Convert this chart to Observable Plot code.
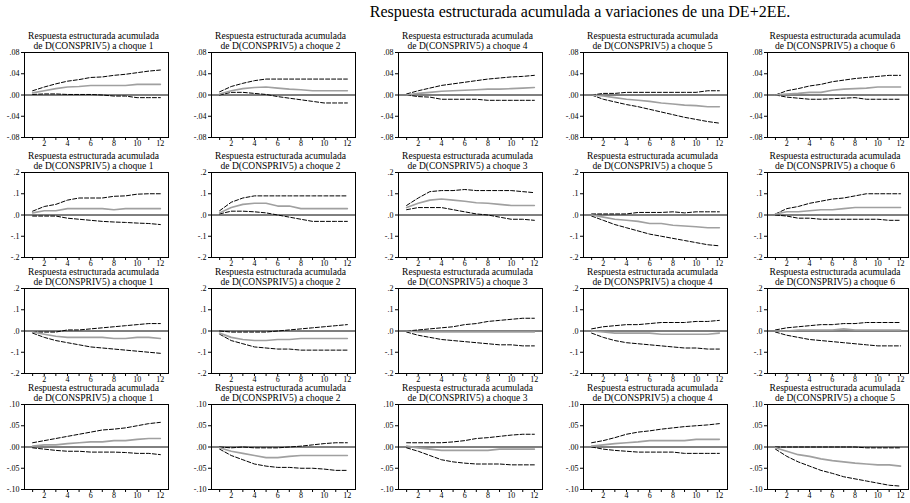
<!DOCTYPE html>
<html><head><meta charset="utf-8">
<script src="https://cdn.jsdelivr.net/npm/d3@7"></script>
<script src="https://cdn.jsdelivr.net/npm/@observablehq/plot@0.6"></script>
<style>
body{margin:0;background:#fff;}
#chart{position:relative;width:910px;height:503px;overflow:hidden;font-family:"Liberation Serif",serif;background:#fff;}
#title{position:absolute;left:100px;top:3px;width:960px;text-align:center;font-size:16px;color:#000;white-space:nowrap;}
.panel{position:absolute;}
#chart svg, #chart svg text{font-family:"Liberation Serif",serif !important;}
</style></head><body>
<div id="chart"><div id="title">Respuesta estructurada acumulada a variaciones de una DE+2EE.</div></div>
<script>
// ---------- data ----------
const periods = [1,2,3,4,5,6,7,8,9,10,11,12];
const xTickLabels = ["","2","","4","","6","","8","","10","","12"];
const titleLine1 = "Respuesta estructurada acumulada";
const titleLine2 = "de D(CONSPRIV5) a choque ";
const rowShocks = [[1,2,4,5,6],[1,2,3,5,6],[1,2,3,4,6],[1,2,3,4,5]];
const yLimits = [0.08, 0.2, 0.2, 0.10];
const yTickValues = [
  [-0.08,-0.04,0,0.04,0.08],
  [-0.2,-0.1,0,0.1,0.2],
  [-0.2,-0.1,0,0.1,0.2],
  [-0.10,-0.05,0,0.05,0.10]
];
const yTickLabels = [
  ["-.08","-.04",".00",".04",".08"],
  ["-.2","-.1",".0",".1",".2"],
  ["-.2","-.1",".0",".1",".2"],
  ["-.10","-.05",".00",".05",".10"]
];

// Row 1
const resp1 = [
  [0.004,0.008,0.012,0.015,0.016,0.018,0.018,0.018,0.018,0.020,0.020,0.020],
  [0.002,0.008,0.012,0.014,0.015,0.013,0.011,0.010,0.008,0.008,0.008,0.008],
  [0.000,0.003,0.005,0.007,0.008,0.009,0.010,0.011,0.011,0.012,0.013,0.014],
  [0.000,-0.002,-0.005,-0.008,-0.010,-0.012,-0.015,-0.017,-0.019,-0.020,-0.022,-0.022],
  [0.000,0.002,0.003,0.005,0.005,0.009,0.011,0.012,0.013,0.015,0.015,0.015]
];
const hi1 = [
  [0.008,0.015,0.021,0.026,0.029,0.033,0.034,0.037,0.039,0.042,0.045,0.047],
  [0.006,0.016,0.022,0.027,0.030,0.030,0.030,0.030,0.030,0.030,0.030,0.030],
  [0.002,0.008,0.013,0.018,0.021,0.024,0.027,0.030,0.032,0.034,0.035,0.037],
  [0.000,0.003,0.003,0.005,0.005,0.005,0.005,0.005,0.005,0.005,0.008,0.008],
  [0.000,0.008,0.012,0.017,0.020,0.025,0.028,0.031,0.033,0.035,0.037,0.037]
];
const lo1 = [
  [0.001,0.002,0.002,0.001,0.001,0.001,0.000,-0.002,-0.002,-0.005,-0.005,-0.005],
  [0.000,0.005,0.005,0.003,0.001,-0.003,-0.006,-0.009,-0.012,-0.015,-0.015,-0.015],
  [0.000,-0.003,-0.004,-0.008,-0.008,-0.008,-0.008,-0.010,-0.010,-0.010,-0.010,-0.010],
  [0.000,-0.008,-0.013,-0.018,-0.022,-0.027,-0.032,-0.037,-0.042,-0.046,-0.050,-0.053],
  [0.000,-0.004,-0.006,-0.008,-0.008,-0.007,-0.006,-0.005,-0.008,-0.008,-0.008,-0.008]
];
// Row 2
const resp2 = [
  [0.010,0.020,0.020,0.030,0.030,0.030,0.030,0.025,0.030,0.030,0.030,0.030],
  [0.010,0.035,0.050,0.055,0.055,0.042,0.042,0.030,0.030,0.030,0.030,0.030],
  [0.035,0.055,0.070,0.075,0.070,0.065,0.058,0.055,0.050,0.045,0.045,0.045],
  [0.000,-0.010,-0.020,-0.025,-0.030,-0.040,-0.040,-0.048,-0.052,-0.055,-0.060,-0.060],
  [0.005,0.015,0.015,0.020,0.025,0.025,0.030,0.035,0.035,0.035,0.035,0.035]
];
const hi2 = [
  [0.018,0.040,0.050,0.070,0.080,0.080,0.080,0.088,0.090,0.098,0.100,0.100],
  [0.020,0.060,0.080,0.090,0.090,0.090,0.090,0.090,0.090,0.090,0.090,0.090],
  [0.045,0.080,0.110,0.115,0.115,0.120,0.115,0.115,0.115,0.115,0.110,0.105],
  [0.005,0.005,0.005,0.005,0.012,0.012,0.012,0.015,0.010,0.015,0.015,0.015],
  [0.005,0.030,0.040,0.055,0.065,0.075,0.080,0.090,0.100,0.100,0.100,0.100]
];
const lo2 = [
  [-0.005,-0.005,-0.005,-0.015,-0.020,-0.025,-0.030,-0.033,-0.035,-0.038,-0.040,-0.045],
  [0.005,0.018,0.018,0.015,0.010,0.000,-0.010,-0.020,-0.030,-0.030,-0.030,-0.030],
  [0.025,0.035,0.035,0.035,0.025,0.015,0.005,0.000,-0.010,-0.020,-0.020,-0.025],
  [-0.005,-0.025,-0.045,-0.060,-0.075,-0.090,-0.100,-0.110,-0.120,-0.130,-0.140,-0.145],
  [0.000,-0.005,-0.015,-0.015,-0.020,-0.020,-0.020,-0.020,-0.020,-0.020,-0.025,-0.025]
];
// Row 3
const resp3 = [
  [-0.005,-0.015,-0.025,-0.030,-0.030,-0.030,-0.030,-0.035,-0.035,-0.030,-0.030,-0.035],
  [-0.010,-0.030,-0.040,-0.045,-0.045,-0.040,-0.040,-0.035,-0.035,-0.035,-0.035,-0.035],
  [0.000,-0.005,-0.005,-0.005,-0.005,-0.005,-0.005,-0.005,-0.005,-0.005,-0.005,-0.005],
  [0.000,-0.005,-0.010,-0.010,-0.010,-0.010,-0.015,-0.015,-0.015,-0.015,-0.015,-0.010],
  [0.000,0.000,0.005,0.005,0.005,0.005,0.010,0.005,0.005,0.005,0.005,0.005]
];
const hi3 = [
  [-0.005,-0.005,-0.005,0.005,0.005,0.010,0.015,0.020,0.025,0.030,0.035,0.035],
  [0.000,-0.005,-0.005,-0.005,-0.005,0.000,0.005,0.010,0.015,0.020,0.025,0.030],
  [0.000,0.005,0.010,0.015,0.020,0.030,0.035,0.045,0.050,0.055,0.060,0.060],
  [0.010,0.020,0.025,0.030,0.030,0.035,0.040,0.040,0.040,0.045,0.045,0.050],
  [0.005,0.015,0.020,0.025,0.030,0.030,0.035,0.035,0.040,0.040,0.040,0.040]
];
const lo3 = [
  [-0.010,-0.030,-0.045,-0.055,-0.065,-0.075,-0.080,-0.085,-0.090,-0.095,-0.100,-0.105],
  [-0.015,-0.045,-0.060,-0.075,-0.080,-0.085,-0.085,-0.090,-0.090,-0.090,-0.090,-0.090],
  [-0.005,-0.020,-0.030,-0.040,-0.045,-0.050,-0.055,-0.060,-0.065,-0.065,-0.070,-0.070],
  [-0.010,-0.030,-0.045,-0.055,-0.060,-0.065,-0.070,-0.075,-0.080,-0.080,-0.085,-0.085],
  [-0.005,-0.020,-0.030,-0.040,-0.045,-0.050,-0.055,-0.060,-0.065,-0.070,-0.070,-0.070]
];
// Row 4
const resp4 = [
  [0.002,0.005,0.005,0.008,0.010,0.012,0.012,0.015,0.015,0.018,0.020,0.020],
  [-0.002,-0.010,-0.015,-0.020,-0.025,-0.025,-0.022,-0.020,-0.020,-0.020,-0.020,-0.020],
  [0.002,-0.002,-0.005,-0.008,-0.008,-0.008,-0.008,-0.008,-0.005,-0.005,-0.005,-0.005],
  [0.002,0.005,0.008,0.010,0.012,0.015,0.015,0.015,0.015,0.018,0.018,0.018],
  [-0.002,-0.010,-0.018,-0.022,-0.028,-0.032,-0.035,-0.038,-0.040,-0.042,-0.042,-0.045]
];
const hi4 = [
  [0.010,0.015,0.020,0.025,0.030,0.035,0.040,0.042,0.045,0.050,0.055,0.058],
  [0.000,-0.002,0.000,-0.002,-0.002,-0.002,0.000,0.002,0.005,0.008,0.010,0.010],
  [0.010,0.010,0.010,0.010,0.012,0.015,0.020,0.022,0.025,0.028,0.030,0.030],
  [0.010,0.015,0.022,0.030,0.035,0.038,0.042,0.045,0.048,0.050,0.052,0.055],
  [0.000,0.000,0.000,0.000,0.000,0.000,0.000,0.000,-0.002,-0.002,-0.002,-0.002]
];
const lo4 = [
  [-0.002,-0.005,-0.008,-0.010,-0.010,-0.012,-0.012,-0.012,-0.013,-0.015,-0.015,-0.018],
  [-0.005,-0.020,-0.030,-0.040,-0.045,-0.048,-0.048,-0.050,-0.050,-0.052,-0.055,-0.055],
  [-0.002,-0.010,-0.020,-0.030,-0.035,-0.038,-0.040,-0.040,-0.040,-0.042,-0.042,-0.042],
  [0.000,-0.005,-0.008,-0.010,-0.012,-0.012,-0.012,-0.012,-0.015,-0.015,-0.015,-0.015],
  [-0.005,-0.022,-0.035,-0.045,-0.055,-0.062,-0.070,-0.075,-0.080,-0.085,-0.090,-0.092]
];

const respRows = [resp1, resp2, resp3, resp4];
const hiRows = [hi1, hi2, hi3, hi4];
const loRows = [lo1, lo2, lo3, lo4];

// ---------- layout ----------
const colLeft = [24, 211, 398, 583, 767];
const colWidth = [144, 144, 144, 144, 141];
const rowTop = [52, 172, 288, 404];
const frameH = 85;
const ml = 26, mr = 3, mt = 28, mb = 14;

const chart = document.getElementById("chart");
const pts = arr => arr.map((v, i) => ({t: periods[i], v}));

for (let r = 0; r < 4; r++) {
  const lim = yLimits[r];
  const labelMap = new Map(yTickValues[r].map((v, i) => [v, yTickLabels[r][i]]));
  for (let c = 0; c < 5; c++) {
    const title = titleLine1 + "\n" + titleLine2 + rowShocks[r][c];
    const svg = Plot.plot({
      width: colWidth[c] + ml + mr,
      height: frameH + mt + mb,
      marginLeft: ml, marginRight: mr, marginTop: mt, marginBottom: mb,
      style: {fontFamily: "'Liberation Serif', serif", fontSize: "8px", color: "#000", background: "transparent", overflow: "visible"},
      x: {domain: [0.3, 12.7]},
      y: {domain: [-lim, lim]},
      marks: [
        Plot.ruleY([0], {stroke: "#000", strokeWidth: 1}),
        Plot.line(pts(hiRows[r][c]), {x: "t", y: "v", stroke: "#000", strokeWidth: 1, strokeDasharray: "4,2"}),
        Plot.line(pts(loRows[r][c]), {x: "t", y: "v", stroke: "#000", strokeWidth: 1, strokeDasharray: "4,2"}),
        Plot.line(pts(respRows[r][c]), {x: "t", y: "v", stroke: "#a0a0a0", strokeWidth: 1.6}),
        Plot.frame({stroke: "#000", strokeWidth: 1}),
        Plot.axisY(yTickValues[r], {tickFormat: d => labelMap.get(d), tickSize: 3, tickPadding: 2, fontSize: 8, label: null}),
        Plot.axisX(periods, {tickFormat: d => xTickLabels[d - 1], tickSize: 3, tickPadding: 0, fontSize: 8, label: null}),
        Plot.text([title], {text: d => d, frameAnchor: "top", lineAnchor: "bottom", dy: -4, dx: -3, fontSize: 9.5, lineHeight: 1.0, fill: "#000"})
      ]
    });
    svg.classList.add("panel");
    svg.style.left = (colLeft[c] - ml) + "px";
    svg.style.top = (rowTop[r] - mt) + "px";
    svg.style.maxWidth = "none";
    chart.appendChild(svg);
  }
}
</script>
</body></html>
